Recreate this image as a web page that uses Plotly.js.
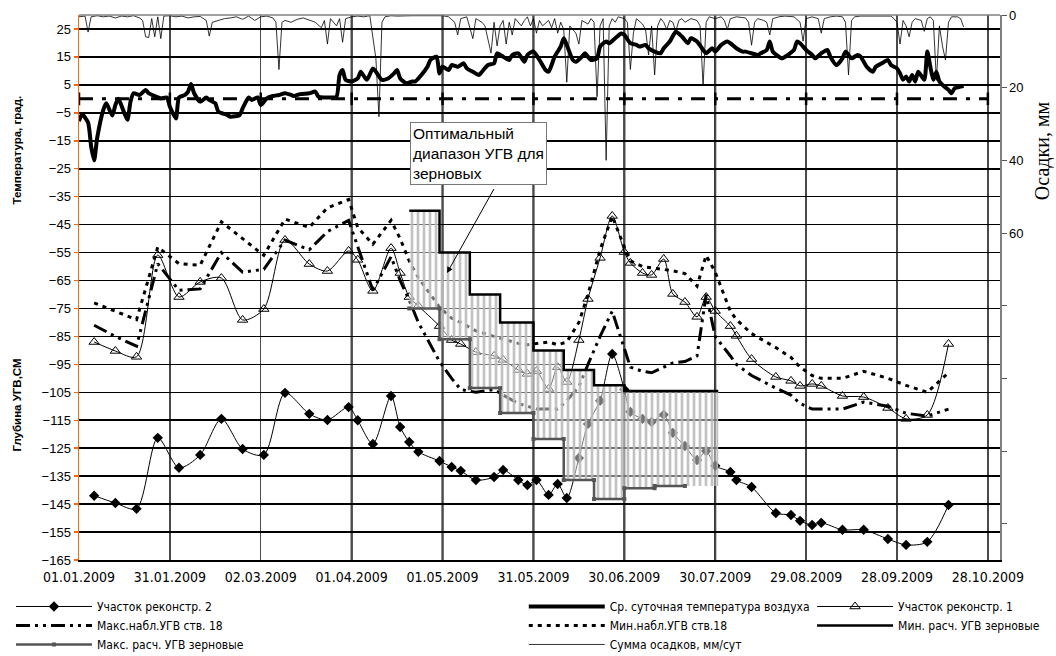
<!DOCTYPE html>
<html>
<head>
<meta charset="utf-8">
<script src="https://cdn.plot.ly/plotly-3.0.1.min.js"></script>
<style>
  html, body { margin: 0; padding: 0; background: #fff; }
  #chart { width: 1056px; height: 656px; }
</style>
</head>
<body>
<div id="chart"></div>
<script>
// ---------------- DATA ----------------
// Observation dates (both sites and observation well 18)
const obsDates = ['2009-01-06','2009-01-13','2009-01-20','2009-01-27','2009-02-03','2009-02-10','2009-02-17','2009-02-24',
  '2009-03-03','2009-03-10','2009-03-18','2009-03-24','2009-03-31','2009-04-03','2009-04-08','2009-04-14','2009-04-17',
  '2009-04-20','2009-04-23','2009-04-30','2009-05-04','2009-05-07','2009-05-12','2009-05-18','2009-05-21','2009-05-26',
  '2009-05-29','2009-06-01','2009-06-05','2009-06-08','2009-06-11','2009-06-15','2009-06-18','2009-06-22','2009-06-26',
  '2009-06-30','2009-07-02','2009-07-06','2009-07-09','2009-07-13','2009-07-16','2009-07-20','2009-07-24','2009-07-27',
  '2009-07-30','2009-08-04','2009-08-06','2009-08-11','2009-08-19','2009-08-24','2009-08-27','2009-08-31','2009-09-03',
  '2009-09-10','2009-09-17','2009-09-25','2009-10-01','2009-10-08','2009-10-15'];

// Участок реконстр. 2 (cm)
const site2 = [-142,-144.6,-146.7,-121.3,-132,-127.4,-114.5,-125.3,-127.4,-105.2,-112.7,-114.9,-110.3,-115,-123.5,-106.3,
  -117.4,-122.8,-126.3,-129.6,-131.7,-133.1,-136.4,-135.3,-132.8,-136.4,-138.2,-136.4,-141.7,-137.8,-142.8,-128.5,-116.3,
  -108,-91.3,-104,-112,-114.5,-115.6,-113,-119.5,-124.2,-129.2,-126,-131.3,-133.5,-136.4,-138.9,-148.2,-148.9,-151,-152.5,
  -151.7,-154.2,-154.2,-157.5,-159.6,-158.5,-145.3];

// Участок реконстр. 1 (cm)
const site1 = [-87,-90.2,-92.3,-55.9,-70.9,-65.5,-64.1,-79.1,-75.2,-50.5,-59.1,-61.6,-54.4,-57.6,-68.7,-53.4,-62.3,-70.9,
  -74.1,-81.3,-86.3,-87.7,-90.6,-92,-93.4,-97,-98.4,-97.4,-103.8,-96,-101.3,-86.3,-71.6,-56.9,-41.9,-54.8,-58.7,-62.3,-63,
  -57.3,-69.8,-72.7,-78,-70.9,-75.9,-81.3,-84.8,-93.1,-99.5,-100.9,-102.7,-102,-102.7,-106.3,-106.7,-110.6,-114.5,-113.1,-87.7];

// Макс.набл.УГВ ств. 18
const wellMax = [-81,-85,-88.5,-59,-68.5,-68,-55,-62,-61,-50.5,-54,-47.5,-43.5,-53,-68.5,-56.5,-65,-72,-80,-94,-100,-104,
  -105,-104,-106,-109,-110,-111,-111,-111,-108,-103,-95,-85,-76,-89,-96,-97.5,-98,-96,-94.5,-94,-92,-70,-85,-92,-95,-99,
  -103.5,-106,-109,-111,-111,-111,-108.5,-110,-112.5,-113.5,-111];

// Мин.набл.УГВ ств.18
const wellMin = [-73,-76,-79,-53,-59,-59.5,-44,-50,-56,-43,-46,-39,-36,-46,-52,-43.5,-50,-58,-64,-74.5,-78.5,-80,-83,-85,
  -86,-87.5,-88,-87.5,-87,-88,-87,-80,-70,-54,-42,-53,-58,-60,-60.5,-61,-61.5,-62.5,-67,-56,-62,-76,-79,-84,-89,-92.5,-96,
  -99,-100,-100,-97.5,-100,-102.5,-105,-98];

// Расчётный диапазон УГВ для зерновых (по декадам)
const stepDates = ['2009-04-20','2009-04-30','2009-05-10','2009-05-20','2009-05-31','2009-06-10','2009-06-20','2009-06-30',
  '2009-07-10','2009-07-20','2009-07-31'];
const calcMin = [-40,-55,-70,-80,-90,-97,-102.5,-104.5,-104.5,-104.5];       // Мин. расч. УГВ зерновые
const calcMax = [-75,-86,-103.5,-112.4,-121.7,-136.4,-143.2,-139.3,-138.5,-138.5]; // Макс. расч. УГВ зерновые
const calcMaxLastDate = '2009-07-20'; // line drawn up to this date

// Ср. суточная температура воздуха: day offset from 01.01.2009, °C
const tDay = [0,1,3,4,5,6,8,9,11,12,13,15,16,17,18,20,22,23,25,27,29,30,32,33,35,36,37,38,40,42,43,45,46,49,50,53,54,56,57,
  59,60,62,64,66,68,70,71,73,76,78,79,81,83,85,86,87,88,90,92,93,95,97,98,100,102,104,105,106,108,110,111,113,115,116,118,
  119,120,122,123,125,127,128,130,132,133,135,137,138,140,142,143,145,147,148,150,152,154,155,157,159,160,161,163,164,166,
  167,169,171,172,174,175,177,179,180,182,184,185,187,188,190,192,193,195,197,199,201,202,204,206,207,209,210,212,214,215,
  217,219,220,222,224,225,227,228,229,231,232,234,236,237,238,240,242,243,245,247,248,250,252,253,255,257,258,260,262,263,
  265,267,268,270,271,272,273,274,275,276,277,279,280,281,282,283,284,285,287,288,289,291,292];
const tVal = [-8,-5.5,-8.5,-17,-22,-14,-4,-1.6,-6,-2.2,0,-5.2,-7.5,-1,2,1.4,3.2,2,1,0.2,0.5,-2.8,-7,0.5,1.4,2.6,5.3,2,-1,
  0.5,-0.4,-1.6,-4.6,-5.8,-6.4,-5.8,-3.4,0.5,-0.4,0.5,-2.2,0.2,1,1.4,2,1.4,1,1.7,2,2.6,0.8,0.5,0.5,0.8,8.5,10.3,6.8,6.2,
  7.3,9.7,6.8,10.9,9.7,6.8,7.3,9.1,10.3,7.3,5.6,6.2,6.2,8.5,11.5,13.9,15.1,9.1,11.5,10.3,12.1,11.5,12.7,10.9,9.7,8.5,9.7,
  12.1,12.7,16.3,15.1,13.9,15.7,16.3,13.3,15.7,17,13.9,10.3,9.7,15.1,18.7,21.7,19.3,13.9,13.3,15.1,16.3,13.9,14.5,18.7,
  20.5,19.9,21.7,23.4,22.9,19.9,19.3,18.7,19.3,18.1,16.9,16.3,18.1,20.5,24,22.3,19.9,21.7,20.5,17.5,16.3,18.1,16.9,19.3,
  20.5,19.9,18.1,16.9,16.9,16.3,15.7,16.3,17.5,20.5,16.9,15.1,14.5,15.7,17.5,20.5,19.9,17.5,15.7,14.5,16.3,17.5,15.1,12.1,
  14.5,16.9,14.5,15.7,15.1,11.5,9.7,11.5,12.7,13.9,12.1,10.9,9.1,6.8,8,6.2,8.5,6.2,9.7,6.8,16.9,11.5,6.8,9.7,6.2,5,3.2,2,
  3.8,4.4,4.6];

// Сумма осадков, мм/сут: day offset from 01.01.2009, mm
const pDay = [0,2,3,4,6,8,10,12,14,16,18,20,21,22,23,24,25,26,27,28,30,32,34,36,38,40,42,43,44,46,48,50,52,54,56,58,60,62,
  64,65,66,67,68,70,72,74,76,78,80,81,82,83,85,86,87,88,90,92,94,96,98,99,100,101,103,105,110,115,120,122,124,125,126,128,
  130,131,133,134,136,137,138,139,140,141,142,143,144,146,147,148,149,150,151,152,153,155,156,157,158,159,160,161,162,164,
  165,166,168,169,170,171,172,173,174,175,176,177,178,180,181,182,183,184,186,187,188,189,190,191,192,193,194,195,196,197,
  198,199,200,202,204,205,206,207,208,210,212,213,214,215,217,220,221,222,223,224,226,227,228,229,231,233,236,238,239,240,
  242,244,245,246,248,250,252,253,254,255,256,258,260,262,264,266,268,269,270,271,272,273,274,275,276,278,279,280,281,282,
  283,284,285,286,287,288,290,291,292];
const pVal = [0.5,0.3,4.7,0.5,0.2,0.5,0.3,0.8,0.3,0.5,0.2,0.8,1.5,6,6.2,1,6,0.5,6.5,0.3,0.2,0.5,0.3,0.8,0.5,0.4,1.5,5.8,2,
  1.5,1,0.8,0.5,1.2,0.3,1.5,0.5,0.3,0.8,2,15,2,1.5,2,1.2,0.8,1.5,2,3.5,1.5,8,1,3,1,7.5,1,0.5,0.3,0.5,0.2,12,28,2,0.5,0.2,
  0.3,0.2,0.3,0.2,0.5,2,5.5,1,0.5,6.5,1,2,3,10.5,2,8.5,3,1.5,8,2,5.5,1,3,1.5,0.5,3,1,5,1.5,3,1.5,3.5,1,5,2,4,18.5,3,5,8,
  1.5,2.5,1,2,22.5,3,1,40,3,1,2,0.5,1,2,15,5,1,2.5,4,11,3,16.5,3,1,2,4,1.5,2,4.5,1.5,1,2,1,1.5,3,19.5,2,0.5,1,0.5,1.5,4,1,
  0.5,0.8,2,8.3,2,1,1.5,2,5.5,1,0.5,0.3,0.5,2,7.2,1,0.5,1,5,1,0.5,0.3,0.5,2,16.5,1.5,0.5,0.3,0.3,0.5,0.3,0.5,0.3,1,2,8,1.5,
  3,6,2,1,1.5,4.5,1,0.5,1.5,18,3,8.5,12.4,2,0.5,0.5,1,3.3];

// X axis ticks every 30 days starting 01.01.2009
const xTickStart = '2009-01-01';
const xTickStepDays = 30;
const xRange = ['2009-01-01', '2009-11-01'];
const tickDates = ['2009-01-01','2009-01-31','2009-03-02','2009-04-01','2009-05-01','2009-05-31','2009-06-30',
  '2009-07-30','2009-08-29','2009-09-28','2009-10-28'];
const boldGridDates = ['2009-04-01','2009-05-01','2009-05-31','2009-06-30','2009-07-30'];
const lightGridValues = [25, 5];

const precipTicks = [0,20,40,60,80,100,120,140];
const precipTickText = ['0','20','40','60','','','',''];

// ---------------- HELPERS ----------------
const DAY = 86400000;
const base = Date.UTC(2009,0,1);
const dayToDate = d => new Date(base + d*DAY).toISOString().slice(0,10);

function stepXY(dates, vals, lastDate) {
  const xs = [], ys = [];
  for (let i = 0; i < vals.length; i++) {
    const x0 = dates[i], x1 = dates[i+1];
    if (lastDate && x0 >= lastDate) break;
    xs.push(x0, x1); ys.push(vals[i], vals[i]);
  }
  return {x: xs, y: ys};
}
const upper = stepXY(stepDates, calcMin);
const lowerFull = stepXY(stepDates, calcMax);
const lowerLine = stepXY(stepDates, calcMax, calcMaxLastDate);
const hatchX = upper.x.concat(lowerFull.x.slice().reverse());
const hatchY = upper.y.concat(lowerFull.y.slice().reverse());

const NARROW = '"Liberation Sans Narrow", "DejaVu Sans Condensed", "Arial Narrow", Arial, sans-serif';
const ARIAL = 'Arial, "Liberation Sans", sans-serif';

// ---------------- TRACES ----------------
const traces = [
  { // zero line (no legend)
    x: tickDates, y: tickDates.map(() => 0), mode: 'lines+markers', showlegend: false,
    line: {color: '#000', width: 3, dash: '14px,9px,4px,9px'},
    marker: {symbol: 'line-ns', size: 9, line: {color: '#000', width: 2.5}},
    hoverinfo: 'skip'
  },
  { name: 'Ср. суточная температура воздуха', legend: 'legend2', legendrank: 1,
    x: tDay.map(dayToDate), y: tVal, mode: 'lines',
    line: {color: '#000', width: 4, shape: 'spline', smoothing: 0.6}
  },
  { name: 'Макс.набл.УГВ ств. 18', legend: 'legend', legendrank: 2,
    x: obsDates, y: wellMax, mode: 'lines',
    line: {color: '#000', width: 3, dash: '14px,5px,3px,5px,3px,5px'}
  },
  { name: 'Мин.набл.УГВ ств.18', legend: 'legend2', legendrank: 2,
    x: obsDates, y: wellMin, mode: 'lines',
    line: {color: '#000', width: 3, dash: '4px,5px'}
  },
  { name: 'Участок реконстр. 2', legend: 'legend', legendrank: 1,
    x: obsDates, y: site2, mode: 'lines+markers',
    line: {color: '#000', width: 1, shape: 'spline', smoothing: 0.8},
    marker: {symbol: 'diamond', size: 8, color: '#000'}
  },
  { name: 'Участок реконстр. 1', legend: 'legend3', legendrank: 1,
    x: obsDates, y: site1, mode: 'lines+markers',
    line: {color: '#000', width: 1, shape: 'spline', smoothing: 0.8},
    marker: {symbol: 'triangle-up-open', size: 9, color: '#000', line: {width: 1}}
  },
  { // hatched optimal range
    x: hatchX, y: hatchY, mode: 'lines', fill: 'toself', showlegend: false, hoverinfo: 'skip',
    line: {width: 0, color: 'rgba(0,0,0,0)'},
    fillcolor: 'rgba(255,255,255,0.45)',
    fillpattern: {shape: '|', fgcolor: '#b8b8b8', fgopacity: 0.85, bgcolor: 'rgba(255,255,255,0.45)', size: 6, solidity: 0.45}
  },
  { name: 'Мин. расч. УГВ зерновые', legend: 'legend3', legendrank: 2,
    x: upper.x, y: upper.y, mode: 'lines',
    line: {color: '#000', width: 2.5}
  },
  { name: 'Макс. расч. УГВ зерновые', legend: 'legend', legendrank: 3,
    x: lowerLine.x, y: lowerLine.y, mode: 'lines+markers',
    line: {color: '#555', width: 2.5},
    marker: {symbol: 'square', size: 4, color: '#555'}
  },
  { name: 'Сумма осадков, мм/сут', legend: 'legend2', legendrank: 3, yaxis: 'y2',
    x: pDay.map(dayToDate), y: pVal, mode: 'lines',
    line: {color: '#000', width: 0.8}
  }
];

// ---------------- LAYOUT ----------------
const legendCommon = {
  orientation: 'v', xanchor: 'left', yanchor: 'top', xref: 'container', yref: 'container',
  bgcolor: 'rgba(0,0,0,0)', font: {family: NARROW, size: 12, color: '#000'},
  itemwidth: 76, tracegroupgap: 0, traceorder: 'normal'
};
const shapes = [
  {type: 'line', xref: 'paper', yref: 'paper', x0: 0, x1: 1, y0: 1, y1: 1, line: {color: '#808080', width: 1.5}}
];
boldGridDates.forEach(d => shapes.push({type: 'line', layer: 'between', xref: 'x', yref: 'paper',
  x0: d, x1: d, y0: 0, y1: 1, line: {color: '#000', width: 2}}));
lightGridValues.forEach(v => shapes.push({type: 'line', layer: 'between', xref: 'paper', yref: 'y',
  x0: 0, x1: 1, y0: v, y1: v, line: {color: '#8a8a8a', width: 1.6}}));

const layout = {
  width: 1056, height: 656,
  margin: {l: 79, r: 56, t: 15, b: 96, autoexpand: false},
  paper_bgcolor: '#fff', plot_bgcolor: '#fff',
  showlegend: true,
  font: {family: ARIAL, color: '#000'},
  xaxis: {
    type: 'date', range: xRange, tick0: xTickStart, dtick: xTickStepDays*DAY,
    tickformat: '%d.%m.%Y', tickfont: {family: NARROW, size: 14, color: '#000'}, ticklabelstandoff: 4,
    showgrid: true, gridcolor: '#4a4a4a', gridwidth: 1.4,
    showline: true, linecolor: '#000', linewidth: 1.5, ticks: '', zeroline: false
  },
  yaxis: {
    range: [-165, 30], tick0: 25, dtick: 10,
    tickfont: {family: ARIAL, size: 13, color: '#000'},
    showgrid: true, gridcolor: '#000', gridwidth: 1.6,
    showline: true, linecolor: '#FF6600', linewidth: 1.5,
    ticks: 'outside', ticklen: 4, tickcolor: '#FF6600', tickwidth: 1.5, zeroline: false
  },
  yaxis2: {
    overlaying: 'y', side: 'right', range: [150, 0],
    tickvals: precipTicks, ticktext: precipTickText,
    tickfont: {family: ARIAL, size: 13, color: '#000'},
    showgrid: false, zeroline: false, showline: true, linecolor: '#808080', linewidth: 1.5,
    ticks: 'outside', ticklen: 5, tickcolor: '#555'
  },
  shapes: shapes,
  annotations: [
    {xref: 'paper', yref: 'paper', x: -0.067, y: 0.752, xanchor: 'center', yanchor: 'middle',
     text: '<b>Температура, град.</b>', textangle: -90, showarrow: false, font: {family: ARIAL, size: 11.5}},
    {xref: 'paper', yref: 'paper', x: -0.067, y: 0.284, xanchor: 'center', yanchor: 'middle',
     text: '<b>Глубина УГВ,СМ</b>', textangle: -90, showarrow: false, font: {family: ARIAL, size: 11.5}},
    {xref: 'paper', yref: 'paper', x: 1.0456, y: 0.752, xanchor: 'center', yanchor: 'middle',
     text: 'Осадки, мм', textangle: -90, showarrow: false,
     font: {family: '"Liberation Serif", "DejaVu Serif", serif', size: 20}},
    {xref: 'paper', yref: 'paper', x: 0.3594, y: 0.8037, xanchor: 'left', yanchor: 'top', align: 'left',
     text: 'Оптимальный<br>диапазон УГВ для<br>зерновых', showarrow: false,
     font: {family: ARIAL, size: 15.5}, bgcolor: '#fff', bordercolor: '#777', borderwidth: 1, borderpad: 2},
    {xref: 'paper', yref: 'paper', x: 0.3996, y: 0.5266, text: ' ', font: {size: 1},
     showarrow: true, ax: 48, ay: -86, arrowhead: 2, arrowsize: 1.2, arrowwidth: 1, arrowcolor: '#000', standoff: 0}
  ],
  legend: Object.assign({x: 0.0104, y: 0.0976}, legendCommon),
  legend2: Object.assign({x: 0.496, y: 0.0976}, legendCommon),
  legend3: Object.assign({x: 0.769, y: 0.0976}, legendCommon)
};

Plotly.newPlot('chart', traces, layout, {displayModeBar: false, staticPlot: true});
</script>
</body>
</html>
